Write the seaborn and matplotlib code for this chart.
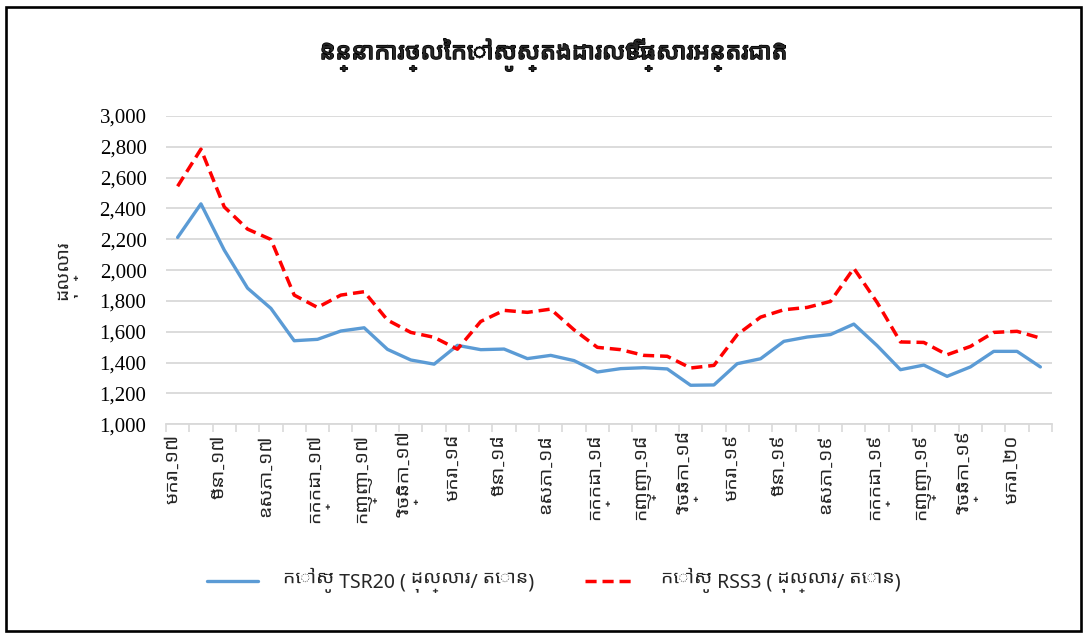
import numpy as np
import pandas as pd
import matplotlib
matplotlib.use("Agg")
import matplotlib.pyplot as plt
import matplotlib.patheffects as pe
import seaborn as sns
from matplotlib import font_manager
from matplotlib.ft2font import FT2Font
from matplotlib.patches import Rectangle

# data (USD / tonne), Jan-17 .. Feb-20
tsr20 = [2212, 2430, 2130, 1883, 1752, 1542, 1551, 1605, 1626, 1486, 1417, 1390,
         1512, 1484, 1488, 1426, 1447, 1413, 1339, 1361, 1367, 1359, 1253, 1255,
         1393, 1425, 1538, 1566, 1582, 1650, 1510, 1354, 1384, 1311, 1372, 1473,
         1473, 1372]
rss3 = [2544, 2785, 2410, 2266, 2199, 1838, 1758, 1838, 1860, 1676, 1596, 1564,
        1487, 1667, 1739, 1726, 1747, 1613, 1499, 1484, 1447, 1441, 1365, 1382,
        1581, 1695, 1743, 1758, 1797, 2012, 1790, 1534, 1531, 1451, 1505, 1596,
        1603, 1559]
months = ["មករា", "", "មីនា", "", "ឧសភា", "", "កក្កដា", "", "កញ្ញា", "", "វិច្ឆិកា", ""]
years = ["១៧", "១៨", "១៩", "២០"]
tick_labels = []
for i in range(len(tsr20)):
    m = months[i % 12]
    tick_labels.append(m + "-" + years[i // 12] if m else "")

title = "និន្នាការថ្លៃកៅស៊ូស្តង់ដារលើទីផ្សារអន្តរជាតិ"
ylabel = "ដុល្លារ"
name_tsr = "កៅស៊ូ TSR20 ( ដុល្លារ/ តោន)"
name_rss = "កៅស៊ូ RSS3 ( ដុល្លារ/ តោន)"

# find installed fonts that cover Khmer, prefer a "Khmer" sans family with bold
cands = {}
for f in font_manager.fontManager.ttflist:
    try:
        if 0x1780 not in FT2Font(f.fname).get_charmap():
            continue
    except Exception:
        continue
    w = f.weight
    bold = (w == "bold") if isinstance(w, str) else (w >= 600)
    cands.setdefault(f.name, False)
    cands[f.name] = cands[f.name] or bold

def score(n):
    return (("Khmer" in n) * 4 + cands[n] * 2 + ("Sans" in n) * 1
            - ("Mono" in n) * 3)

khmer = [max(cands, key=score)] if cands else []

sns.set_theme(style="white")
serif = ["Liberation Serif"] + khmer + ["DejaVu Serif"]
sans = ["Noto Sans"] + khmer + ["DejaVu Sans"]
plt.rcParams['font.family'] = sans

df = pd.DataFrame({"x": np.arange(len(tsr20)), "tsr": tsr20, "rss": rss3})

fig = plt.figure(figsize=(10.84, 6.38), dpi=100)
ax = fig.add_axes([0.1531, 0.335, 0.8174, 0.4832])

sns.lineplot(data=df, x="x", y="tsr", ax=ax, color="#5b9bd5", lw=2.4,
             label=name_tsr)
sns.lineplot(data=df, x="x", y="rss", ax=ax, color="#ff0000", lw=2.5,
             linestyle=(0, (3.2, 1.7)), label=name_rss)

ax.set_xlim(-0.5, len(tsr20) - 0.5)
ax.set_ylim(1000, 3000)
ax.set_yticks(np.arange(1000, 3001, 200))
ax.set_yticklabels([f"{v:,}" for v in range(1000, 3001, 200)],
                   family=["Liberation Serif", "DejaVu Serif"], fontsize=15,
                   color="#000000")
ax.yaxis.grid(True, color="#d9d9d9", lw=1.3)
ax.xaxis.grid(False)

ax.set_xticks(np.arange(len(tsr20)))
ax.set_xticklabels(tick_labels, rotation=90, family=serif, fontsize=14)
ax.set_xticks(np.arange(-0.5, len(tsr20)), minor=True)
ax.tick_params(axis="x", which="major", length=0, pad=7)
ax.tick_params(axis="x", which="minor", length=6, color="#d9d9d9", width=1.2,
               bottom=True)
ax.tick_params(axis="y", length=0, pad=14)

for s in ["top", "right", "left"]:
    ax.spines[s].set_visible(False)
ax.spines["bottom"].set_color("#d9d9d9")
ax.spines["bottom"].set_linewidth(1.3)

ax.set_xlabel("")
ax.set_ylabel(ylabel, family=sans, fontsize=14, labelpad=16)

t = fig.text(0.511, 0.914, title, ha="center", va="center", fontsize=18,
             fontweight="bold", family=sans)
t.set_path_effects([pe.withStroke(linewidth=1.1, foreground="black")])

ax.legend(loc="center", bbox_to_anchor=(0.511, 0.091),
          bbox_transform=fig.transFigure, ncol=2, frameon=False,
          fontsize=14, handlelength=2.6, columnspacing=2.6, handletextpad=1.3)

fig.patches.append(Rectangle((6 / 1084, 7 / 638), 1075 / 1084, 624 / 638,
                             transform=fig.transFigure, fill=False,
                             edgecolor="black", lw=1.9, zorder=10))

fig.savefig("out.png", dpi=100, facecolor="white")
